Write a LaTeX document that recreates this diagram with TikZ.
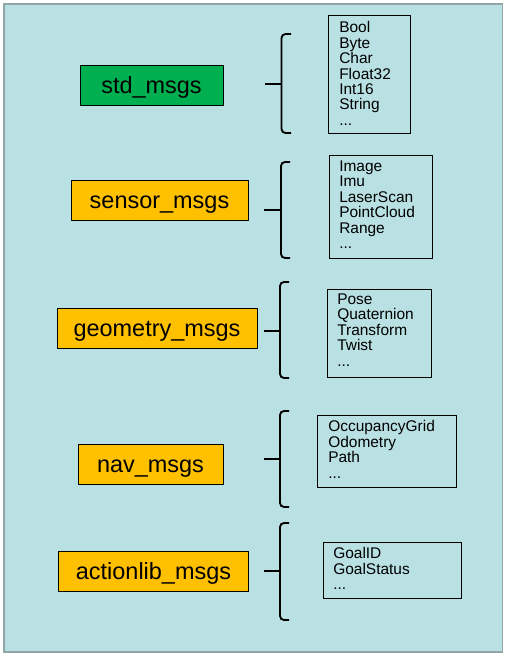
\documentclass[tikz,border=0pt]{standalone}
\usepackage{fontspec}
\setmainfont{Liberation Sans}
\definecolor{bgcyan}{HTML}{B9E0E3}
\definecolor{bordergray}{HTML}{8FA6A9}
\definecolor{pkggreen}{HTML}{00B050}
\definecolor{pkgorange}{HTML}{FFC000}
\begin{document}
\begin{tikzpicture}[x=0.75pt,y=-0.75pt,
  pkg/.style={draw=black,line width=0.75pt,inner sep=0pt,minimum height=30pt,
    text height=13pt,text depth=1pt,
    font=\fontsize{17.6}{20}\selectfont},
  listbox/.style={draw=black,line width=0.75pt},
  listtext/.style={anchor=north west,inner sep=0pt,align=left,
    font=\fontsize{11.6}{11.55}\selectfont},
  bracket/.style={draw=black,line width=1.4pt,rounded corners=3pt},
  tick/.style={draw=black,line width=1.4pt}]
\useasboundingbox (0,0) rectangle (508,657);
\draw[fill=bgcyan,draw=bordergray,line width=1pt] (4,4) rectangle (502.5,652);

% package boxes
\node[pkg,fill=pkggreen,minimum width=107.25pt] (std) at (151.5,85) {std\_msgs};
\node[pkg,fill=pkgorange,minimum width=132.75pt] (sensor) at (159.5,200) {sensor\_msgs};
\node[pkg,fill=pkgorange,minimum width=150pt] (geom) at (157,328) {geometry\_msgs};
\node[pkg,fill=pkgorange,minimum width=108.75pt] (nav) at (150.5,464) {nav\_msgs};
\node[pkg,fill=pkgorange,minimum width=142.5pt] (action) at (153.5,571) {actionlib\_msgs};

% brackets
\draw[bracket] (291,34) -- (281.5,34) -- (281.5,133) -- (291,133);
\draw[tick] (265,84) -- (281.5,84);
\draw[bracket] (290,162) -- (281,162) -- (281,258) -- (290,258);
\draw[tick] (264,210) -- (281,210);
\draw[bracket] (289,282) -- (280,282) -- (280,378) -- (289,378);
\draw[tick] (264,331) -- (280,331);
\draw[bracket] (289,411) -- (280,411) -- (280,507) -- (289,507);
\draw[tick] (264,459) -- (280,459);
\draw[bracket] (289,523) -- (280,523) -- (280,620) -- (289,620);
\draw[tick] (264,571) -- (280,571);

% list boxes
\draw[listbox] (328,15) rectangle (410,133);
\node[listtext] (stdlist) at (339,21.5) {Bool\\Byte\\Char\\Float32\\Int16\\String\\...};
\draw[listbox] (329,155) rectangle (432,258);
\node[listtext] (sensorlist) at (339,160.5) {Image\\Imu\\LaserScan\\PointCloud\\Range\\...};
\draw[listbox] (327,289) rectangle (431,377);
\node[listtext] (geomlist) at (337,293.5) {Pose\\Quaternion\\Transform\\Twist\\...};
\draw[listbox] (317,415) rectangle (456,487);
\node[listtext] (navlist) at (328,420.5) {OccupancyGrid\\Odometry\\Path\\...};
\draw[listbox] (323,542) rectangle (461,598);
\node[listtext] (actionlist) at (333,547.5) {GoalID\\GoalStatus\\...};
\end{tikzpicture}
\end{document}
